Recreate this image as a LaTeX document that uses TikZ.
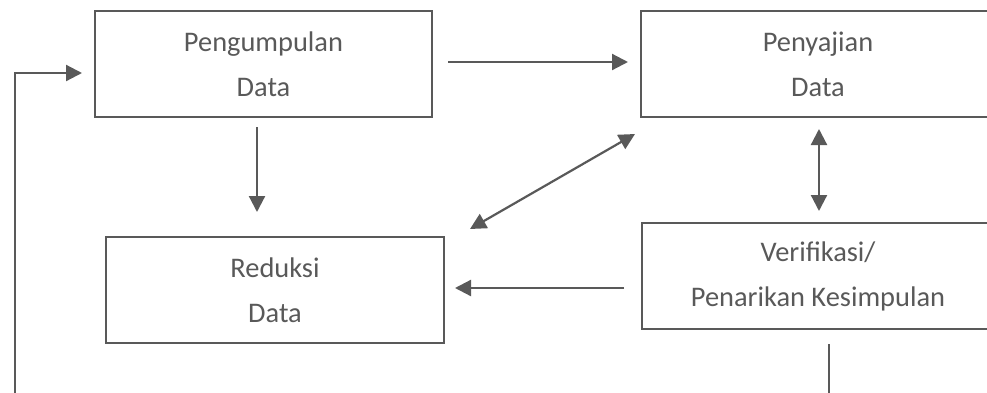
\documentclass[tikz,border=0pt]{standalone}
\usepackage{fontspec}
\setmainfont{Carlito}
\usetikzlibrary{arrows.meta}
\definecolor{abu}{HTML}{595959}

\begin{document}
\begin{tikzpicture}[x=0.5pt,y=-0.5pt,
    kotak/.style={draw=abu,line width=1pt,rectangle,minimum height=53pt,
        align=center,text=abu,inner sep=0pt,
        font=\fontsize{14.2}{22.5}\selectfont},
    panah/.style={draw=abu,line width=1.1pt,-{Triangle[length=8pt,width=8pt]}},
    panah2/.style={panah,{Triangle[length=8pt,width=8pt]}-{Triangle[length=8pt,width=8pt]}}
    ]
    \useasboundingbox (0,0) rectangle (987,392);
    \clip (0,0) rectangle (987,392);

    \node[kotak,minimum width=168.5pt] (pengumpulan) at (263.5,64) {Pengumpulan\\Data};
    \node[kotak,minimum width=177pt] (penyajian) at (818,64) {Penyajian\\Data};
    \node[kotak,minimum width=169pt] (reduksi) at (275,290) {Reduksi\\Data};
    \node[kotak,minimum width=176pt] (verifikasi) at (818,276) {Verifikasi/\\Penarikan Kesimpulan};

    \draw[panah,shorten <=7.5pt,shorten >=6pt] ([shift={(0,-2)}]pengumpulan.east) -- ([shift={(0,-2)}]penyajian.west);
    \draw[panah,shorten <=4.5pt,shorten >=12pt] ([shift={(-6.5,0)}]pengumpulan.south) -- ([shift={(-6.5,0)}]pengumpulan.south |- reduksi.north);

    \draw[panah2] ([shift={(-5,16)}]penyajian.south west) -- ([shift={(25,-7)}]reduksi.north east);
    \draw[panah2,shorten <=5.5pt,shorten >=5.5pt] ([shift={(1,0)}]penyajian.south) -- ([shift={(1,0)}]verifikasi.north);

    \draw[panah,shorten <=8.5pt,shorten >=5pt] ([shift={(0,12)}]verifikasi.west) -- ([shift={(0,12)}]verifikasi.west -| reduksi.east);

    % putaran balik ke pengumpulan data
    \coordinate (bawah) at (15,410);
    \draw[panah,shorten <=7pt,shorten >=6pt] ([shift={(11,0)}]verifikasi.south) |- (bawah) |- ([shift={(0,9)}]pengumpulan.west);
\end{tikzpicture}
\end{document}
